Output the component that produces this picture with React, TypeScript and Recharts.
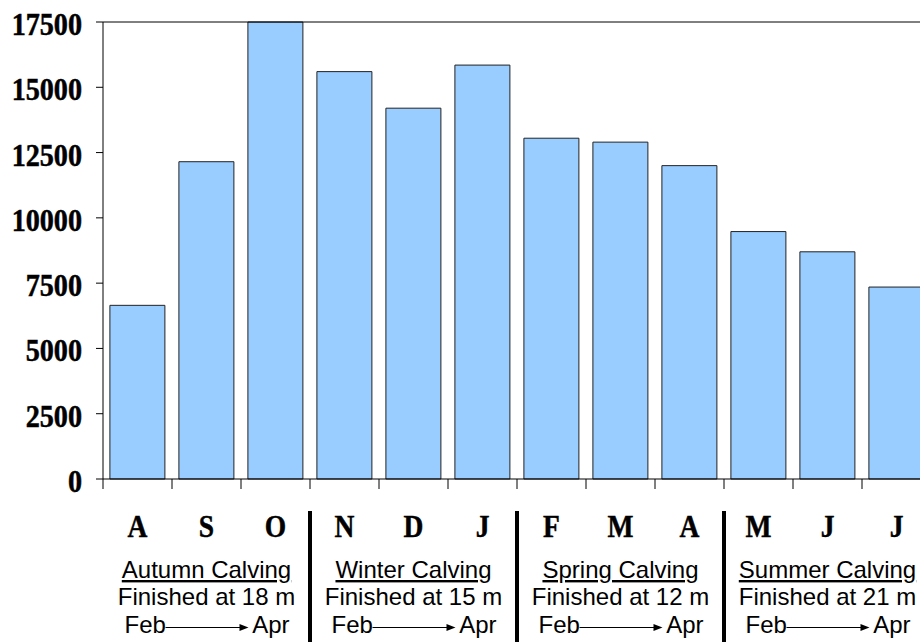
import React from 'react';
import { BarChart, Bar, XAxis, YAxis, ReferenceLine } from 'recharts';

// months along the x axis (keys are unique, letters are what is printed)
const monthKeys = ['Aug', 'Sep', 'Oct', 'Nov', 'Dec', 'Jan', 'Feb', 'Mar', 'Apr', 'May', 'Jun', 'Jul'];
const monthLetters = ['A', 'S', 'O', 'N', 'D', 'J', 'F', 'M', 'A', 'M', 'J', 'J'];
const values = [6650, 12150, 17500, 15600, 14200, 15850, 13050, 12900, 12000, 9475, 8700, 7350];

const yTicks = [0, 2500, 5000, 7500, 10000, 12500, 15000, 17500];

// calving groups, labelled under their middle month
const groupMid = ['Sep', 'Dec', 'Mar', 'Jun'];
const groupTitles = ['Autumn Calving', 'Winter Calving', 'Spring Calving', 'Summer Calving'];
const groupFinish = ['Finished at 18 m', 'Finished at 15 m', 'Finished at 12 m', 'Finished at 21 m'];
const groupSplits = ['Oct', 'Jan', 'Apr'];

const data = monthKeys.map((key, i) => ({ key, value: values[i] }));

const SERIF = '"Liberation Serif", "Times New Roman", serif';
const SANS = '"Liberation Sans", Arial, sans-serif';

function YTick(props: any) {
  const { x, y, payload } = props;
  return (
    <text
      transform={`translate(${x},${y + 13}) scale(0.88,1)`}
      textAnchor="end"
      fontFamily={SERIF}
      fontWeight="bold"
      fontSize={32}
      fill="#000"
      stroke="#000"
      strokeWidth={0.5}
    >
      {payload.value}
    </text>
  );
}

function MonthTick(props: any) {
  const { x, y, payload } = props;
  const idx = monthKeys.indexOf(payload.value);
  const g = groupMid.indexOf(payload.value);
  return (
    <g>
      <text
        transform={`translate(${x},${y + 57.5}) scale(0.86,1)`}
        textAnchor="middle"
        fontFamily={SERIF}
        fontWeight="bold"
        fontSize={32}
        fill="#000"
        stroke="#000"
        strokeWidth={0.5}
      >
        {monthLetters[idx]}
      </text>
      {g >= 0 && (
        <g fontFamily={SANS} fontSize={24} fill="#000">
          <text x={x} y={y + 99} textAnchor="middle" style={{ textDecoration: 'underline' }}>
            {groupTitles[g]}
          </text>
          <text x={x} y={y + 126} textAnchor="middle">
            {groupFinish[g]}
          </text>
          <text x={x - 82} y={y + 154} textAnchor="start">Feb</text>
          <line x1={x - 41} y1={y + 148.5} x2={x + 35} y2={y + 148.5} stroke="#000" strokeWidth={1} />
          <polygon
            points={`${x + 42},${y + 148.5} ${x + 33},${y + 145} ${x + 33},${y + 152}`}
            fill="#000"
          />
          <text x={x + 83} y={y + 154} textAnchor="end">Apr</text>
        </g>
      )}
    </g>
  );
}

// short tick mark under the axis at a month boundary
function BoundaryTick(props: any) {
  const { x1, y1, y2 } = props;
  const bottom = Math.max(y1, y2);
  return <line x1={x1} x2={x1} y1={bottom} y2={bottom + 10} stroke="#000" strokeWidth={1} />;
}

// thick divider between calving groups
function GroupDivider(props: any) {
  const { x1, y1, y2 } = props;
  const bottom = Math.max(y1, y2);
  return <line x1={x1} x2={x1} y1={bottom + 32} y2={bottom + 170} stroke="#000" strokeWidth={4} />;
}

export default function App() {
  return (
    <div
      style={{
        position: 'fixed',
        left: 0,
        top: 0,
        width: 920,
        height: 642,
        overflow: 'hidden',
        background: '#fff',
      }}
    >
      <BarChart
        width={940}
        height={642}
        data={data}
        margin={{ top: 22, right: 9, left: 0, bottom: 0 }}
        barCategoryGap="10%"
      >
        <XAxis
          dataKey="key"
          type="category"
          interval={0}
          height={163}
          tickLine={false}
          tickSize={0}
          tickMargin={0}
          axisLine={{ stroke: '#000', strokeWidth: 1 }}
          tick={<MonthTick />}
        />
        <YAxis
          width={103}
          domain={[0, 17500]}
          ticks={yTicks}
          interval={0}
          tickSize={7}
          tickMargin={14}
          axisLine={{ stroke: '#000', strokeWidth: 1 }}
          tickLine={{ stroke: '#000', strokeWidth: 1 }}
          tick={<YTick />}
        />
        <ReferenceLine y={17500} stroke="#000" strokeWidth={1} ifOverflow="visible" />
        <Bar
          dataKey="value"
          fill="#99CCFF"
          stroke="#222"
          strokeWidth={1}
          isAnimationActive={false}
        />
        <ReferenceLine x={monthKeys[0]} position="start" ifOverflow="visible" shape={BoundaryTick} />
        {monthKeys.map((k) => (
          <ReferenceLine key={k} x={k} position="end" ifOverflow="visible" shape={BoundaryTick} />
        ))}
        {groupSplits.map((k) => (
          <ReferenceLine key={'g' + k} x={k} position="end" ifOverflow="visible" shape={GroupDivider} />
        ))}
      </BarChart>
    </div>
  );
}
